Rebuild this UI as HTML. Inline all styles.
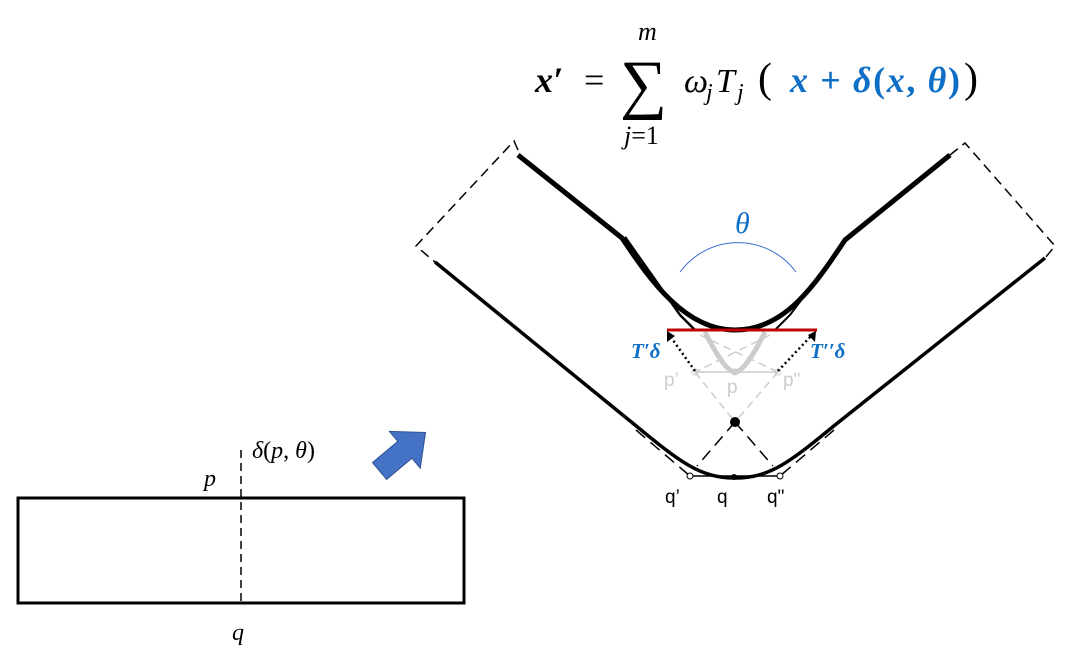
<!DOCTYPE html>
<html><head><meta charset="utf-8"><style>
body{margin:0;background:#fff;width:1075px;height:660px;overflow:hidden}
.s{font-family:"Liberation Serif","DejaVu Serif",serif}
.a{font-family:"Liberation Sans","DejaVu Sans",sans-serif}
</style></head><body>
<svg width="1075" height="660" viewBox="0 0 1075 660" xmlns="http://www.w3.org/2000/svg">
<!-- formula -->
<g class="s">
<text x="535" y="92" font-size="36" font-style="italic" font-weight="bold">x′</text>
<text x="584" y="92" font-size="36">=</text>
<text x="620" y="106" font-size="66">∑</text>
<text x="638" y="40" font-size="26" font-style="italic">m</text>
<text x="624" y="144" font-size="26"><tspan font-style="italic">j</tspan>=1</text>
<text x="684" y="92" font-size="34" font-style="italic">ω</text>
<text x="706" y="100" font-size="24" font-style="italic">j</text>
<text x="716" y="92" font-size="34" font-style="italic">T</text>
<text x="737" y="100" font-size="24" font-style="italic">j</text>
<text x="758" y="92" font-size="42">(</text>
<text x="790" y="92" font-size="36" fill="#0f6fc6" font-weight="bold" textLength="170" lengthAdjust="spacing"><tspan font-style="italic">x</tspan> + <tspan font-style="italic">δ</tspan>(<tspan font-style="italic">x</tspan>, <tspan font-style="italic">θ</tspan>)</text>
<text x="964" y="92" font-size="42">)</text>
</g>

<!-- dashed ends -->
<polyline points="518,150 514,141 416,246 435,262" fill="none" stroke="#000" stroke-width="1.5" stroke-dasharray="10,6"/>
<polyline points="950,155 965,143 1055,246 1045,258" fill="none" stroke="#000" stroke-width="1.5" stroke-dasharray="10,6"/>
<!-- inner curve -->
<path d="M518,155 L622,238 C650,280 685,330 735,330 C785,330 815,285 845,240 L950,155" fill="none" stroke="#000" stroke-width="5"/>
<path d="M625,237 L680,315 L695,330" fill="none" stroke="#000" stroke-width="2.5"/>
<path d="M845,242 L790,315 L775,330" fill="none" stroke="#000" stroke-width="2"/>
<!-- outer curve -->
<path d="M435,262 L635,425 C680,462 700,478 735,478 C770,478 790,462 835,425 L1045,258" fill="none" stroke="#000" stroke-width="3.5"/>
<!-- theta arc -->
<path d="M680,272 A72,72 0 0 1 796,272" fill="none" stroke="#3b6fd0" stroke-width="1"/>
<text class="s" x="735" y="233" font-size="30" font-style="italic" fill="#0f6fc6">θ</text>
<!-- gray stuff -->
<g stroke="#ccc" fill="none">
<path d="M705,332 Q725,372 735,372 Q745,372 765,332" stroke-width="5"/>
<line x1="695" y1="372" x2="778" y2="372" stroke-width="1.5"/>
<line x1="700" y1="335" x2="778" y2="372" stroke-width="1.5" stroke-dasharray="8,5"/>
<line x1="770" y1="335" x2="695" y2="372" stroke-width="1.5" stroke-dasharray="8,5"/>
<line x1="695" y1="372" x2="735" y2="422" stroke-width="1.5" stroke-dasharray="8,5"/>
<line x1="778" y1="372" x2="735" y2="422" stroke-width="1.5" stroke-dasharray="8,5"/>
<circle cx="695" cy="372" r="3"/><circle cx="778" cy="372" r="3"/><circle cx="735" cy="372" r="3" fill="#ccc"/>
</g>
<g class="a" font-size="19" fill="#ccc">
<text x="664" y="386">p’</text><text x="727" y="393">p</text><text x="783" y="386">p"</text>
</g>
<!-- dashed black lines -->
<g stroke="#000" stroke-width="1.5" stroke-dasharray="12,7" fill="none">
<line x1="735" y1="422" x2="697" y2="466"/>
<line x1="735" y1="422" x2="773" y2="466"/>
<line x1="636" y1="430" x2="690" y2="476"/>
<line x1="834" y1="430" x2="780" y2="476"/>
</g>
<circle cx="735" cy="422" r="5" fill="#000"/>
<line x1="690" y1="476" x2="780" y2="476" stroke="#000" stroke-width="1.5"/>
<circle cx="690" cy="476" r="3" fill="#fff" stroke="#000"/><circle cx="780" cy="476" r="3" fill="#fff" stroke="#000"/>
<circle cx="734" cy="477" r="3" fill="#000"/>
<g class="a" font-size="19">
<text x="665" y="503">q’</text><text x="717" y="503">q</text><text x="767" y="503">q"</text>
</g>
<!-- red line and arrows -->
<line x1="667" y1="330" x2="817" y2="330" stroke="#c00000" stroke-width="3"/>
<line x1="695" y1="371" x2="670" y2="336" stroke="#000" stroke-width="2.5" stroke-dasharray="2,3"/>
<polygon points="667,331 667,342 675,336" fill="#000"/>
<line x1="778" y1="371" x2="811" y2="336" stroke="#000" stroke-width="2.5" stroke-dasharray="2,3"/>
<polygon points="816,331 808,335 815,342" fill="#000"/>
<text class="s" x="631" y="358" font-size="21" font-weight="bold" font-style="italic" fill="#0f6fc6">T′δ</text>
<text class="s" x="810" y="358" font-size="21" font-weight="bold" font-style="italic" fill="#0f6fc6">T′′δ</text>

<!-- blue arrow -->
<g transform="translate(401,453) rotate(-40)">
<polygon points="-28,-11 5,-11 5,-24 32,0 5,24 5,11 -28,11" fill="#4472c4" stroke="#2f528f" stroke-width="1"/>
</g>
<!-- rectangle -->
<rect x="18" y="498" width="446" height="105" fill="none" stroke="#000" stroke-width="3"/>
<line x1="241" y1="450" x2="241" y2="603" stroke="#000" stroke-width="1.5" stroke-dasharray="8,5"/>
<g class="s">
<text x="204" y="486" font-size="24" font-style="italic">p</text>
<text x="252" y="458" font-size="24"><tspan font-style="italic">δ</tspan>(<tspan font-style="italic">p</tspan>, <tspan font-style="italic">θ</tspan>)</text>
<text x="232" y="640" font-size="24" font-style="italic">q</text>
</g>
</svg>
</body></html>
